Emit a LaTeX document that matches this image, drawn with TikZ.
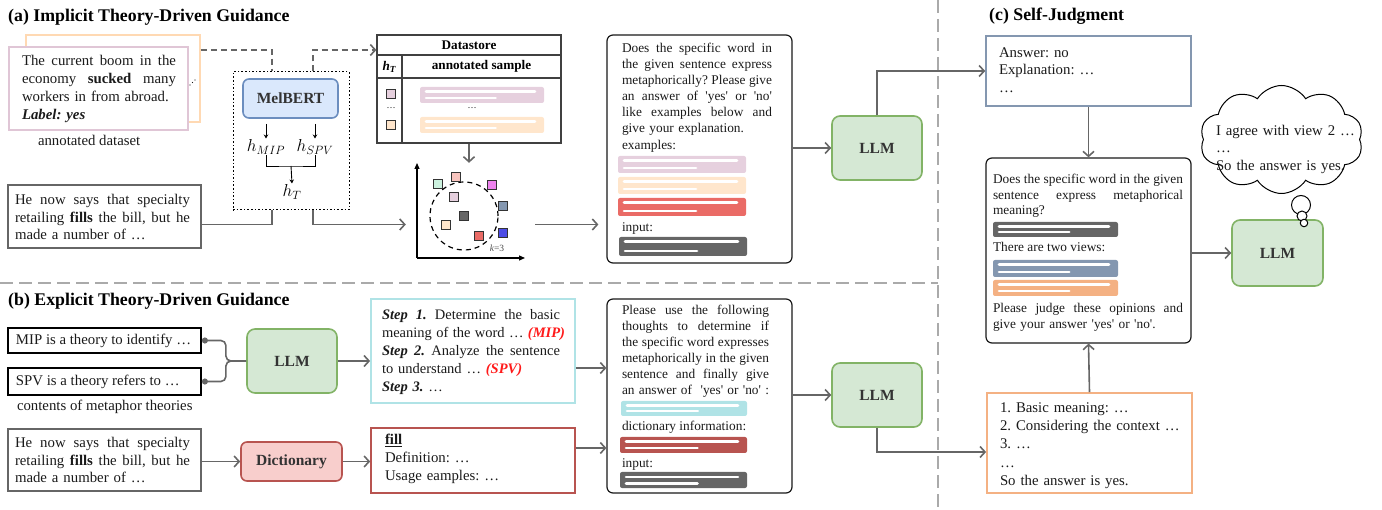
\documentclass[tikz,border=0pt]{standalone}
\usepackage{fontspec}
\setmainfont{Liberation Serif}
\usetikzlibrary{arrows.meta,fit,shapes.symbols}
\definecolor{ctext}{HTML}{1A1A1A}
\definecolor{clab}{HTML}{333333}
\definecolor{cline}{HTML}{666666}
\definecolor{csep}{HTML}{AAAAAA}
\definecolor{cpink}{HTML}{E6D0DE}
\definecolor{cpinkd}{HTML}{E0C6D6}
\definecolor{cpeach}{HTML}{FFE6CC}
\definecolor{cpeachd}{HTML}{FFD9B3}
\definecolor{cred}{HTML}{EA6B66}
\definecolor{cdark}{HTML}{666666}
\definecolor{ccyan}{HTML}{B0E3E6}
\definecolor{cdict}{HTML}{B85450}
\definecolor{cdictf}{HTML}{F8CECC}
\definecolor{cslate}{HTML}{8497B0}
\definecolor{corange}{HTML}{F4B183}
\definecolor{cgreenf}{HTML}{D5E8D4}
\definecolor{cgreend}{HTML}{82B366}
\definecolor{cbluef}{HTML}{DAE8FC}
\definecolor{cblued}{HTML}{6C8EBF}
\definecolor{cmint}{HTML}{CCF2DF}
\definecolor{csalmon}{HTML}{F8C4BE}
\definecolor{cmagenta}{HTML}{EE82EE}
\definecolor{cblue}{HTML}{4D4DE6}
\definecolor{cred2}{HTML}{FF1A1A}
\frenchspacing
\newcommand\jw[2]{\leavevmode\hbox to #1{\spaceskip=0.25em plus 1fil minus 0.05em\relax\xspaceskip=\spaceskip #2}}
\newcommand\tq{\textquotesingle}
\newcommand\tbar[5]{%
  \fill[#5, rounded corners=2pt] (#1,#2) rectangle (#3,#4);
  \draw[white, line width=2.6pt, line cap=round] ({#1+6},{#2+4.8}) -- ({#3-9},{#2+4.8});
  \draw[white, line width=2.6pt, line cap=round] ({#1+6},{#4-4.8}) -- ({#1+0.61*(#3-#1)},{#4-4.8});
}
\newcommand\sqr[3]{\draw[line width=0.8pt, draw=black!80, fill=#3] ({#1-4.5},{#2-4.5}) rectangle ({#1+4.5},{#2+4.5});}
\tikzset{
  conn/.style={draw=cline, line width=1.6pt},
  arr/.style={conn, -{Straight Barb[length=5pt,width=11pt]}},
  dconn/.style={conn, dash pattern=on 6pt off 4pt},
  llm/.style={rectangle, rounded corners=8pt, draw=cgreend, fill=cgreenf, line width=1.6pt, minimum width=90pt, minimum height=64pt, font=\fontsize{15.5}{18}\selectfont\bfseries, text=clab},
  tool/.style={rectangle, rounded corners=6pt, line width=1.6pt, font=\fontsize{15.5}{18}\selectfont\bfseries, text=clab},
  frame/.style={rectangle, inner sep=0pt, line width=1.6pt},
  prompt/.style={frame, draw=black!90, rounded corners=6pt, line width=1.2pt},
  txt/.style={anchor=base west, inner sep=0pt, outer sep=0pt, align=left, text=ctext},
  ft/.style={font=\fontsize{14.8}{#1}\selectfont},
  fs/.style={font=\fontsize{13.35}{#1}\selectfont},
  title/.style={anchor=base west, inner sep=0pt, font=\fontsize{17.8}{20}\selectfont\bfseries},
}
\begin{document}
\begin{tikzpicture}[x=1pt,y=-1pt]
\useasboundingbox (0,0) rectangle (1382,510);
% separators
\draw[csep, line width=1.5pt, dash pattern=on 13pt off 6pt] (938,0) -- (938,510);
\draw[csep, line width=1.5pt, dash pattern=on 13pt off 6pt] (0,283) -- (938,283);
% titles
\node[title] (ta) at (8,21.5) {(a) Implicit Theory-Driven Guidance};
\node[title] (tb) at (8,306) {(b) Explicit Theory-Driven Guidance};
\node[title] (tc) at (989,21) {(c) Self-Judgment};

% ================= (a)
\node[frame, draw=cpeachd, line width=1.5pt, fit={(26,35)(200,122)}] (dsback) {};
\node[frame, draw=cpinkd, fill=white, line width=1.8pt, fit={(9,47)(188,130)}] (dsfront) {};
\node[txt, ft=17.8, text width=160pt] (dstext) at (22,66) {\jw{154pt}{The current boom in the}\\\jw{154pt}{economy \textbf{sucked} many}\\workers in from abroad.\\\textbf{\textit{Label: yes}}};
\fill[ctext] (190,85) circle (0.6pt) (192.5,82.5) circle (0.6pt) (195,80) circle (0.6pt);
\node[txt, ft=18] (dslab) at (38,146) {annotated dataset};

\node[frame, draw=cline, fit={(8,185)(201,248)}] (inA) {};
\node[txt, ft=17.7, text width=180pt] (inAt) at (15,204.5) {\jw{175pt}{He now says that specialty}\\\jw{175pt}{retailing \textbf{fills} the bill, but he}\\made a number of …};

\node[frame, draw=black, dotted, line width=1pt, fit={(233,72)(349,210)}] (dotbox) {};
\node[tool, draw=cblued, fill=cbluef, minimum width=95pt, minimum height=39pt] (mel) at (290.5,98.5) {MelBERT};
\node[inner sep=1pt, font=\fontsize{17}{20}\selectfont] (hmip) at (266,147) {$h_{MIP}$};
\node[inner sep=1pt, font=\fontsize{17}{20}\selectfont] (hspv) at (315,147) {$h_{SPV}$};
\node[inner sep=1pt, font=\fontsize{17}{20}\selectfont] (ht) at (292,192) {$h_{T}$};
\draw[line width=0.9pt, shorten <=5pt, -{Stealth[length=4pt,width=4.5pt]}] (mel.south -| hmip) -- (hmip.north);
\draw[line width=0.9pt, shorten <=5pt, -{Stealth[length=4pt,width=4.5pt]}] (mel.south -| hspv) -- (hspv.north);
\coordinate (bj) at (291,166);
\draw[line width=0.9pt] (hmip.south) |- (bj) -| (hspv.south);
\draw[line width=0.9pt, -{Stealth[length=4pt,width=4.5pt]}] (bj) -- (ht.north);

% datastore
\node[frame, draw=black!75, line width=1.2pt, fit={(377,35)(561,143)}] (ds) {};
\draw[black!75, line width=1.2pt] (377,55) -- (561,55) (377,78) -- (561,78) (402,55) -- (402,143);
\node[font=\fontsize{13.2}{15}\selectfont\bfseries] (dsh) at (469,45) {Datastore};
\node[font=\fontsize{13.2}{15}\selectfont\bfseries] (dsc1) at (389.5,67) {\textit{h}\textsubscript{\textit{T}}};
\node[font=\fontsize{13.2}{15}\selectfont\bfseries] (dsc2) at (481.5,66.5) {annotated sample};
\sqr{391}{94}{cpink}
\sqr{391}{125}{cpeach}
\node[font=\fontsize{9}{10}\selectfont] (dd1) at (391,108) {…};
\node[font=\fontsize{9}{10}\selectfont] (dd2) at (472,108) {…};
\tbar{420}{87}{544}{103}{cpink}
\tbar{420}{117}{544}{133}{cpeach}

% scatter plot
\node[inner sep=0pt, fit={(406,163)(535,260)}] (plot) {};
\draw[line width=1.2pt, -{Triangle[length=6pt,width=5pt]}] (417,258) -- (417,163);
\draw[line width=1.2pt, -{Triangle[length=6pt,width=5pt]}] (417,258) -- (525,258);
\draw[line width=1.2pt, dash pattern=on 5pt off 4pt] (464,216) circle (34pt);
\sqr{438}{184}{cmint}
\sqr{456}{177}{csalmon}
\sqr{492}{185}{cmagenta}
\sqr{454}{197}{cpink}
\sqr{503}{206}{cslate}
\sqr{464}{216}{cdark}
\sqr{446}{225}{cpeach}
\sqr{479}{236}{cred}
\sqr{503}{233}{cblue}
\node[font=\fontsize{9.5}{11}\selectfont, text=black!70] (kk) at (497,248) {\textit{k}=3};

% prompt a
\node[prompt, fit={(607,35)(792,263)}] (pa) {};
\node[txt, fs=16.1, text width=155pt] (pat) at (622,52.5) {\jw{150pt}{Does the specific word in}\\\jw{150pt}{the given sentence express}\\\jw{150pt}{metaphorically? Please give}\\\jw{150pt}{an answer of \tq yes\tq{} or \tq no\tq}\\\jw{150pt}{like examples below and}\\give your explanation.\\examples:};
\tbar{618}{156}{746}{173}{cpink}
\tbar{618}{177}{746}{194}{cpeach}
\tbar{618}{198}{746}{216}{cred}
\node[txt, fs=16] (pai) at (622,232) {input:};
\tbar{619}{237}{747}{256}{cdark}

\node[llm] (llmA) at (877,148) {LLM};

% connectors (a)
\coordinate (c1) at (272,50);
\coordinate (c2) at (313,50);
\draw[dconn] (dsback.east |- c1) -- (c1) -- (c1 |- dotbox.north);
\draw[dconn, -{Straight Barb[length=5pt,width=11pt]}] (c2 |- dotbox.north) -- (c2) -- (ds.west |- c2);
\coordinate (c3) at (272,224.5);
\coordinate (c4) at (313,224.5);
\draw[conn] (inA.east |- c3) -- (c3) -- (c3 |- dotbox.south);
\draw[arr] (c4 |- dotbox.south) -- (c4) -- (plot.west |- c4);
\draw[arr, shorten >=8pt] (plot.east |- c4) -- (pa.west |- c4);
\draw[arr] (ds.south) -- (ds.south |- plot.north);
\draw[arr] (pa.east |- llmA.west) -- (llmA.west);

% ================= (b)
\node[frame, draw=black, line width=1.8pt, fit={(8,328)(201,353)}] (mip) {};
\node[txt, ft=17] (mipt) at (16,345) {MIP is a theory to identify …};
\node[frame, draw=black, line width=1.8pt, fit={(8,368)(201,395)}] (spv) {};
\node[txt, ft=17] (spvt) at (16,386) {SPV is a theory refers to …};
\node[txt, ft=17] (cont) at (17,411) {contents of metaphor theories};
\node[llm] (llmB1) at (292,361) {LLM};
\draw[conn, rounded corners=5pt, {Circle[length=6pt,width=6pt]}-] (mip.east) -- ++(24,0) |- (llmB1.west);
\draw[conn, rounded corners=5pt, {Circle[length=6pt,width=6pt]}-] (spv.east) -- ++(24,0) |- (llmB1.west);

\node[frame, draw=ccyan, line width=1.8pt, fit={(371,299)(575,403)}] (steps) {};
\node[txt, font=\fontsize{14.5}{17.9}\selectfont, text width=190pt] (stepst) at (382,319.5) {\jw{178pt}{\textbf{\textit{Step 1.}} Determine the basic}\\\jw{183pt}{meaning of the word … \textcolor{cred2}{\textbf{\textit{(MIP)}}}}\\\jw{178pt}{\textbf{\textit{Step 2.}} Analyze the sentence}\\to understand … \textcolor{cred2}{\textbf{\textit{(SPV)}}}\\\textbf{\textit{Step 3.}} …};

\node[frame, draw=cline, fit={(8,429)(201,491)}] (inB) {};
\node[txt, ft=17.7, text width=180pt] (inBt) at (15,447.5) {\jw{175pt}{He now says that specialty}\\\jw{175pt}{retailing \textbf{fills} the bill, but he}\\made a number of …};
\node[tool, draw=cdict, fill=cdictf, minimum width=101pt, minimum height=39pt] (dict) at (291.5,461.5) {Dictionary};
\node[frame, draw=cdict, line width=1.6pt, fit={(371,428)(575,493)}] (dres) {};
\node[txt, ft=18, text width=180pt] (drest) at (385,445) {\textbf{\underline{fill}}\\Definition: …\\Usage eamples: …};

\node[prompt, fit={(607,299)(792,493)}] (pb) {};
\node[txt, fs=16, text width=155pt] (pbt) at (622,315) {\jw{147pt}{Please use the following}\\\jw{147pt}{thoughts to determine if}\\\jw{147pt}{the specific word expresses}\\\jw{147pt}{metaphorically in the given}\\\jw{147pt}{sentence and finally give}\\\jw{147pt}{an answer of \ \tq yes\tq{} or \tq no\tq{} :}};
\tbar{621}{401}{747}{416}{ccyan}
\node[txt, fs=16] (pbd) at (622,431) {dictionary information:};
\tbar{620}{437}{747}{453}{cdict}
\node[txt, fs=16] (pbi) at (622,467.5) {input:};
\tbar{620}{472}{747}{488}{cdark}

\node[llm] (llmB2) at (877,395) {LLM};

\draw[arr] (llmB1.east) -- (steps.west |- llmB1.east);
\coordinate (c5) at (590,368);
\draw[arr] (steps.east |- c5) -- (pb.west |- c5);
\draw[arr] (inB.east |- dict.west) -- (dict.west);
\draw[arr] (dict.east) -- (dres.west |- dict.east);
\coordinate (c6) at (590,448);
\draw[arr] (dres.east |- c6) -- (pb.west |- c6);
\draw[arr] (pb.east |- llmB2.west) -- (llmB2.west);

% ================= (c)
\node[frame, draw=cslate, line width=1.6pt, fit={(986,36)(1191,106)}] (ans) {};
\node[txt, ft=17.5, text width=180pt] (anst) at (999,57.5) {Answer: no\\Explanation: …\\…};
\node[prompt, fit={(986,158)(1191,343)}] (judge) {};
\node[txt, fs=15.5, text width=195pt] (judget) at (993,184) {\jw{190pt}{Does the specific word in the given}\\\jw{190pt}{sentence express metaphorical}\\meaning?};
\tbar{993}{222}{1118}{237}{cdark}
\node[txt, fs=16] (judgev) at (993,252) {There are two views:};
\tbar{993}{260}{1118}{277}{cslate}
\tbar{993}{280}{1118}{296}{corange}
\node[txt, fs=16, text width=195pt] (judgep) at (993,313) {\jw{190pt}{Please judge these opinions and}\\give your answer \tq yes\tq{} or \tq no\tq.};

\node[llm, minimum width=91pt, minimum height=66pt] (llmC) at (1277.5,253) {LLM};
\node[cloud, cloud puffs=10, cloud puff arc=115, aspect=1.5, draw, fill=white, line width=1pt, minimum width=163pt, minimum height=108pt, inner sep=0pt] (cloud) at (1281.5,139.5) {};
\node[txt, ft=17.5, text width=150pt] (cloudt) at (1216,135.5) {I agree with view 2 …\\…\\So the answer is yes.};
\node[circle, draw, fill=white, line width=1pt, minimum size=19pt, inner sep=0pt] (th1) at (1301,205) {};
\node[circle, draw, fill=white, line width=1pt, minimum size=10pt, inner sep=0pt] (th2) at (1302,216) {};
\node[circle, draw, fill=white, line width=1pt, minimum size=7.5pt, inner sep=0pt] (th3) at (1304,223) {};

\node[frame, draw=corange, line width=1.8pt, fit={(987,393)(1192,493)}] (res) {};
\node[txt, ft=18.2, text width=190pt] (rest) at (1000,412.5) {1. Basic meaning: …\\2. Considering the context …\\3. …\\…\\So the answer is yes.};

% connectors (c)
\draw[arr] (llmA.north) |- (ans.west);
\coordinate (c7) at (950,452);
\draw[arr] (llmB2.south) |- (res.west |- c7);
\draw[arr] (ans.south) -- (judge.north);
\draw[arr] (res.north) -- (judge.south);
\draw[arr] (judge.east |- llmC.west) -- (llmC.west);
\end{tikzpicture}
\end{document}
